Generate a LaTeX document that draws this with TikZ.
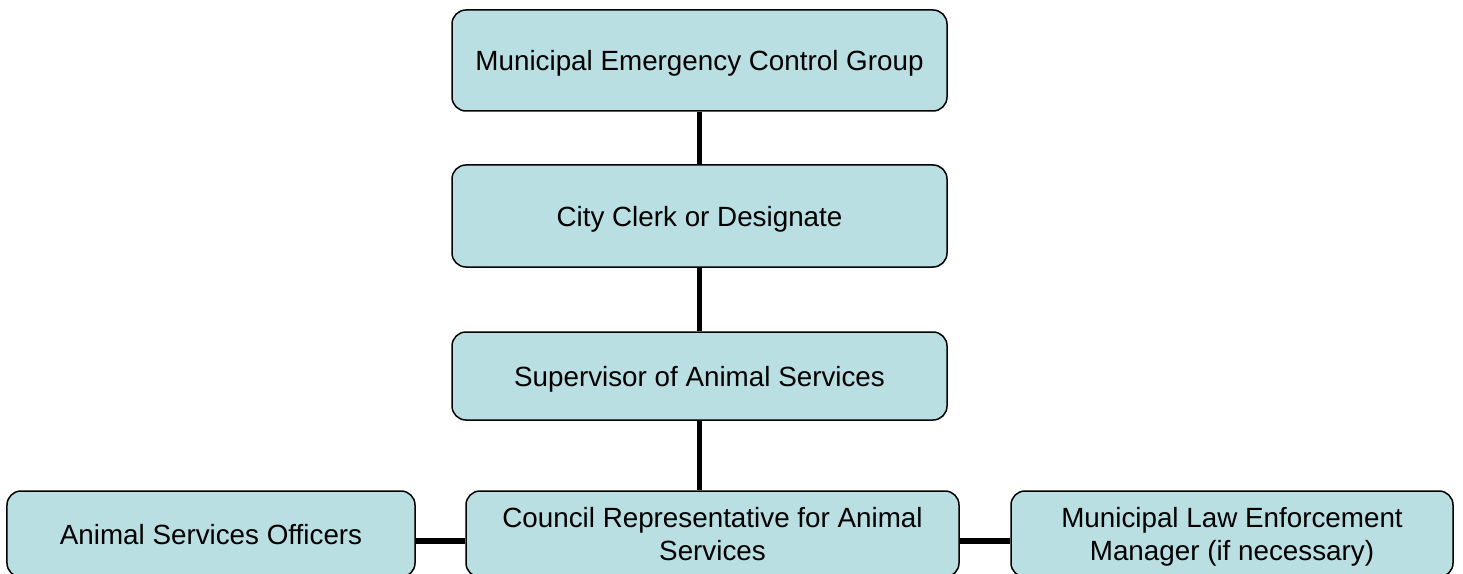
\documentclass[tikz,border=0pt]{standalone}
\usepackage{fontspec}
\setmainfont{Liberation Sans}
\definecolor{boxfill}{RGB}{185,223,227}
\begin{document}
\begin{tikzpicture}[x=1bp,y=-1bp,
  orgbox/.style={draw=black, line width=1.5bp, fill=boxfill, rounded corners=14bp,
    inner sep=0pt, align=center, text depth=0pt, font=\fontsize{27.8bp}{33bp}\selectfont},
  link/.style={draw=black, line width=5.5bp}]
\clip (0,0) rectangle (1463,574);
\useasboundingbox (0,0) rectangle (1463,574);
\node[orgbox, minimum width=495bp, minimum height=101bp] (mecg) at (699.5,60.5) {Municipal Emergency Control Group};
\node[orgbox, minimum width=495bp, minimum height=102bp] (clerk) at (699.5,216) {City Clerk or Designate};
\node[orgbox, minimum width=495bp, minimum height=88bp] (sup) at (699.5,376) {Supervisor of Animal Services};
\node[orgbox, minimum width=493bp, minimum height=86bp] (council) at (712.5,534) {Council Representative for Animal\\Services};
\node[orgbox, minimum width=408bp, minimum height=86bp] (officers) at (211,534) {Animal Services Officers};
\node[orgbox, minimum width=442bp, minimum height=86bp] (mle) at (1232,534) {Municipal Law Enforcement\\Manager (if necessary)};
\coordinate (hy) at (0,541);
\draw[link] (mecg.south) -- (clerk.north);
\draw[link] (clerk.south) -- (sup.north);
\draw[link] (sup.south) -- (sup.south |- council.north);
\draw[link] (officers.east |- hy) -- (council.west |- hy);
\draw[link] (council.east |- hy) -- (mle.west |- hy);
\end{tikzpicture}
\end{document}
